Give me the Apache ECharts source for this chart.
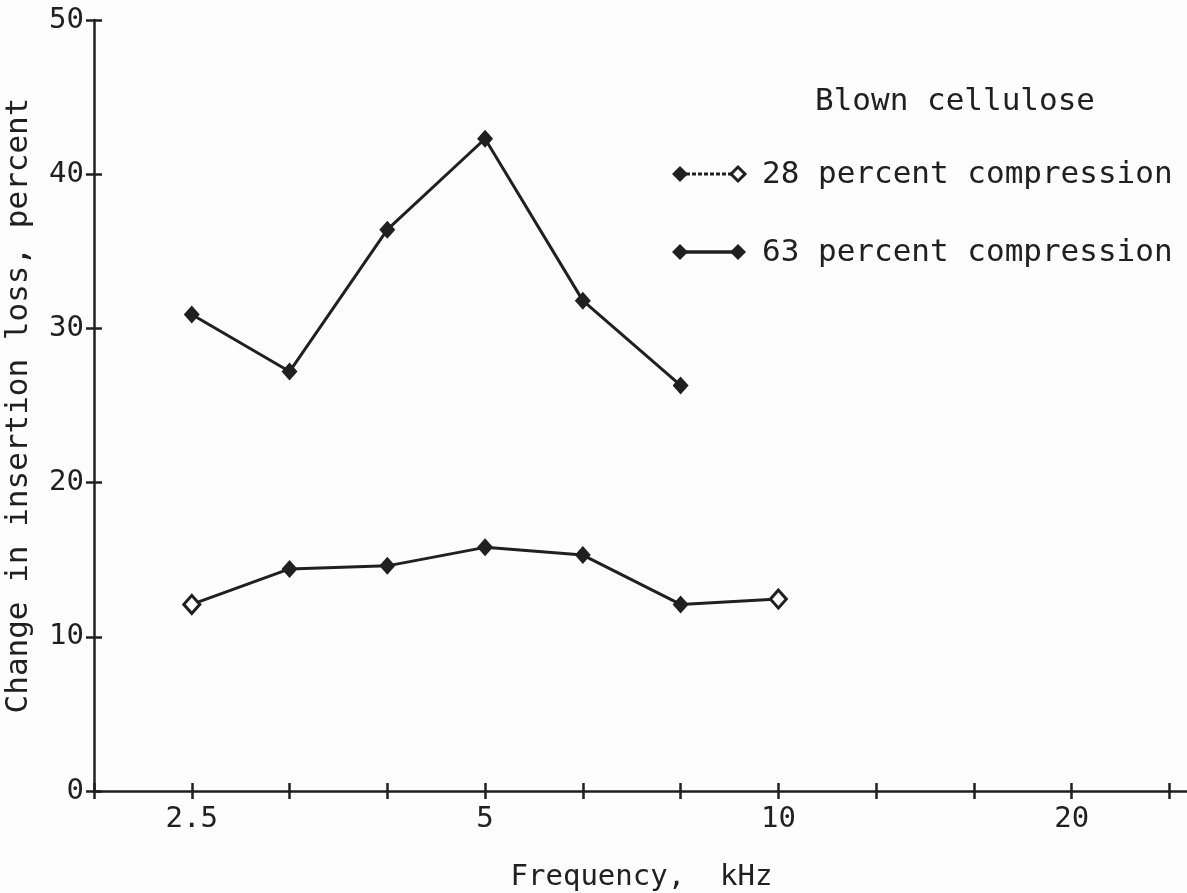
<!DOCTYPE html>
<html><head><meta charset="utf-8">
<script src="https://cdn.jsdelivr.net/npm/echarts@6/dist/echarts.min.js"></script>
<style>html,body{margin:0;padding:0;background:#fdfdfd}#c{width:1187px;height:893px}</style>
</head><body><div id="c"></div>
<script>
// third-octave tick positions (kHz) on the frequency axis
const xTickLabels = ['2','2.5','3.15','4','5','6.3','8','10','12.5','16','20','25'];
const xShownLabels = ['2.5','5','10','20'];
const yTicks = [0,10,20,30,40,50];
// measured frequencies
const freq28 = ['2.5','3.15','4','5','6.3','8','10'];
const change28 = [12.1,14.4,14.6,15.8,15.3,12.1,12.45];
const freq63 = ['2.5','3.15','4','5','6.3','8'];
const change63 = [30.9,27.2,36.4,42.3,31.8,26.3];
const legendTitle = 'Blown cellulose';
const seriesNames = ['28 percent compression','63 percent compression'];

const FONT = 'DejaVu Sans Mono';
const INK = '#202020';
const BG = '#fdfdfd';
const toIdx = f => xTickLabels.indexOf(f);

const d28 = freq28.map((f,i)=>{
  const p = {value:[toIdx(f), change28[i]]};
  if (i===0 || i===freq28.length-1) p.itemStyle = {color:BG, borderColor:INK, borderWidth:3};
  return p;
});
const d63 = freq63.map((f,i)=>[toIdx(f), change63[i]]);

const tickStyle = {color:INK,width:2.5};
const XMAX = 11.2;
const chart = echarts.init(document.getElementById('c'));
chart.setOption({
  backgroundColor:BG,
  animation:false,
  grid:{left:94,right:-2,top:20,bottom:102,containLabel:false,outerBoundsMode:'none'},
  xAxis:[{
    type:'value', min:0, max:XMAX, interval:1, position:'bottom',
    axisLine:{lineStyle:{color:INK,width:2.5}},
    axisTick:{show:true,length:8,lineStyle:tickStyle},
    splitLine:{show:false},
    axisLabel:{color:INK,fontFamily:FONT,fontSize:29,margin:14,
      formatter:v=>{const r=Math.round(v); const l=xTickLabels[r]; return (Math.abs(v-r)<1e-6 && xShownLabels.includes(l))?l:'';}},
    name:'Frequency,  kHz', nameLocation:'middle', nameGap:72,
    nameTextStyle:{color:INK,fontFamily:FONT,fontSize:29}
  },{
    type:'value', min:0, max:XMAX, interval:1, position:'bottom',
    axisLine:{show:false},
    axisTick:{show:true,inside:true,length:8,lineStyle:tickStyle},
    axisLabel:{show:false},splitLine:{show:false}
  }],
  yAxis:[{
    type:'value',min:yTicks[0],max:yTicks[yTicks.length-1],interval:10, position:'left',
    axisLine:{show:true,lineStyle:{color:INK,width:2.5}},
    axisTick:{show:true,length:8,lineStyle:tickStyle},
    axisLabel:{color:INK,fontFamily:FONT,fontSize:29,margin:10},
    splitLine:{show:false},
    name:'Change in insertion loss, percent', nameLocation:'middle', nameGap:60,
    nameTextStyle:{color:INK,fontFamily:FONT,fontSize:31}
  },{
    type:'value',min:yTicks[0],max:yTicks[yTicks.length-1],interval:10, position:'left',
    axisLine:{show:false},
    axisTick:{show:true,inside:true,length:8,lineStyle:tickStyle},
    axisLabel:{show:false},splitLine:{show:false}
  }],
  series:[
    // invisible helper so the inner-tick axes are rendered
    {type:'scatter',xAxisIndex:1,yAxisIndex:1,data:[[0,0]],symbolSize:0,silent:true},
    {name:seriesNames[0],type:'line',data:d28,symbol:'diamond',symbolSize:[16,18],
     lineStyle:{color:INK,width:3},itemStyle:{color:INK},z:3},
    {name:seriesNames[1],type:'line',data:d63,symbol:'diamond',symbolSize:[16,18],
     lineStyle:{color:INK,width:3},itemStyle:{color:INK},z:3}
  ],
  graphic:[
    {type:'text',left:815,top:86,style:{text:legendTitle,font:'31px "DejaVu Sans Mono"',fill:INK}},
    {type:'line',shape:{x1:680,y1:174,x2:738,y2:174},style:{stroke:INK,lineWidth:3,lineDash:[4,2]}},
    {type:'polygon',shape:{points:[[672,174],[680,166],[688,174],[680,182]]},style:{fill:INK}},
    {type:'polygon',shape:{points:[[731,174],[738,167],[745,174],[738,181]]},style:{fill:BG,stroke:INK,lineWidth:3}},
    {type:'text',left:762,top:159,style:{text:seriesNames[0],font:'31px "DejaVu Sans Mono"',fill:INK}},
    {type:'line',shape:{x1:680,y1:252,x2:738,y2:252},style:{stroke:INK,lineWidth:3.5}},
    {type:'polygon',shape:{points:[[672,252],[680,244],[688,252],[680,260]]},style:{fill:INK}},
    {type:'polygon',shape:{points:[[730,252],[738,244],[746,252],[738,260]]},style:{fill:INK}},
    {type:'text',left:762,top:237,style:{text:seriesNames[1],font:'31px "DejaVu Sans Mono"',fill:INK}}
  ]
});
</script></body></html>
